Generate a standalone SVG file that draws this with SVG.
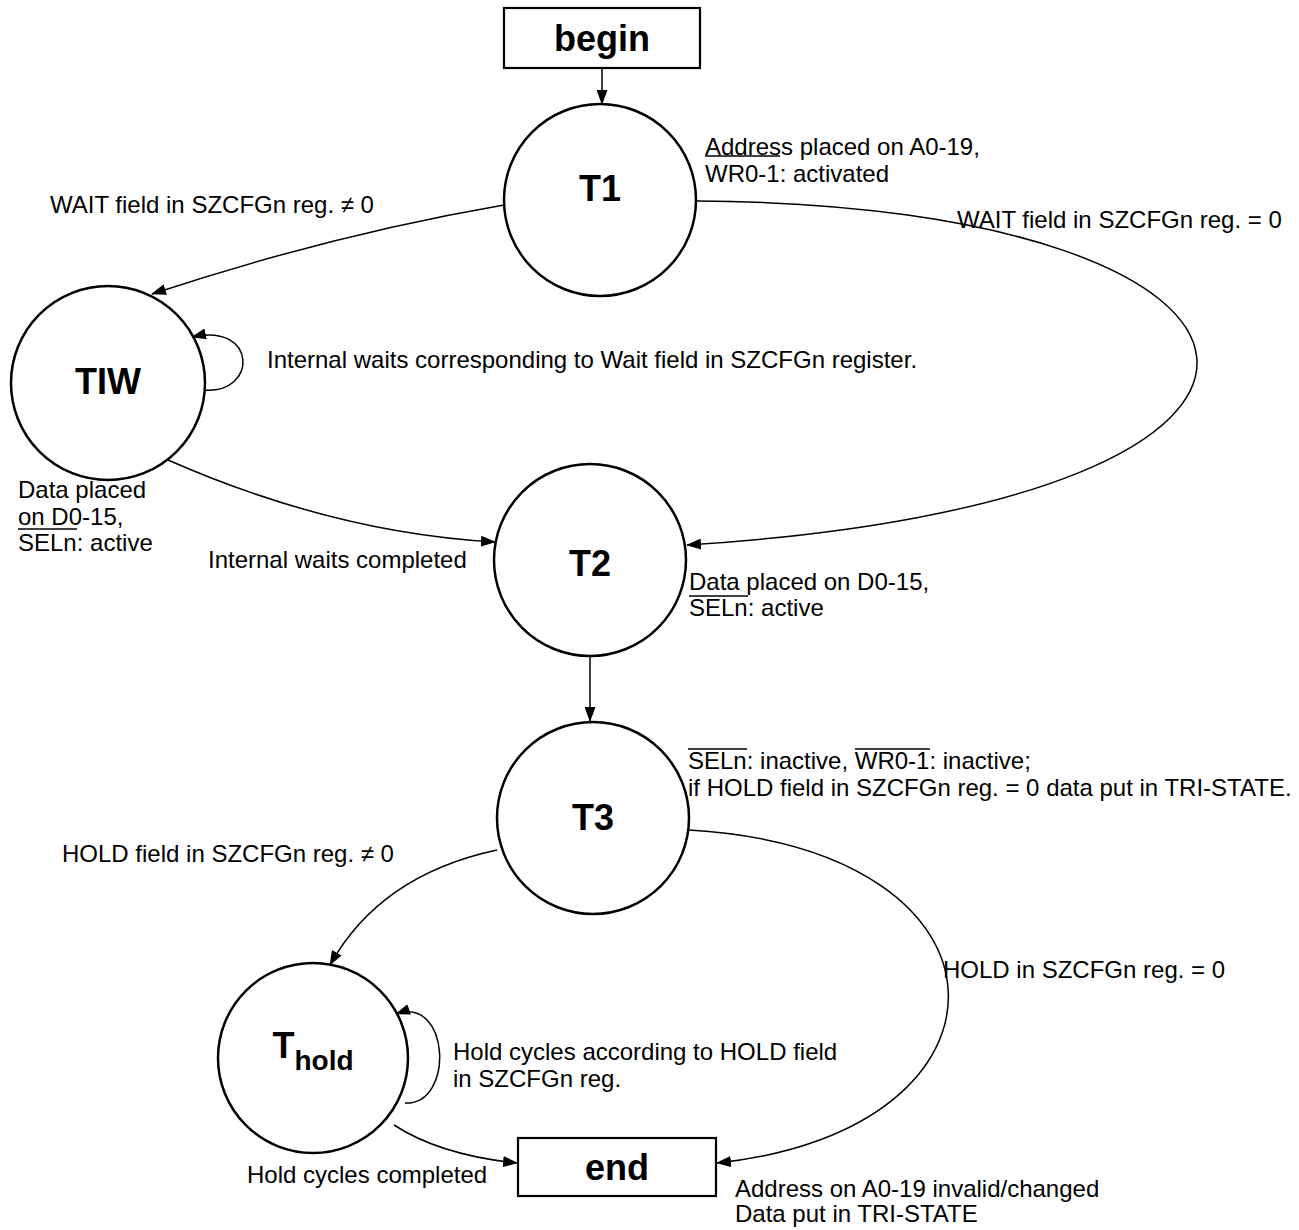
<svg xmlns="http://www.w3.org/2000/svg" width="1299" height="1230" viewBox="0 0 1299 1230">
<defs>
<marker id="ah" markerWidth="15" markerHeight="11" refX="14" refY="5.5" orient="auto" markerUnits="userSpaceOnUse"><path d="M0,0 L15,5.5 L0,11 z" fill="#000"/></marker>
</defs>
<style>
.node{fill:#fff;stroke:#000;stroke-width:2.5}
.box{fill:#fff;stroke:#000;stroke-width:2.2}
.nl{font-family:"Liberation Sans",Arial,sans-serif;font-weight:bold;font-size:36px;text-anchor:middle;fill:#000}
.lb{font-family:"Liberation Sans",Arial,sans-serif;font-size:24px;fill:#000}
.edge{fill:none;stroke:#000;stroke-width:1.5;marker-end:url(#ah)}
.ov{stroke:#000;stroke-width:1.3}
</style>
<rect width="1299" height="1230" fill="#fff"/>
<g id="connectors">
<path class="edge" d="M602,68 L602,104"/>
<path class="edge" d="M504,205 Q330,235 152,294"/>
<path class="edge" d="M697,201 C1330,205 1400,500 687,545"/>
<path class="edge" d="M203,390 C258,395 258,322 192,337"/>
<path class="edge" d="M168,460 Q334,533 495,542"/>
<path class="edge" d="M590,656 L590,721"/>
<path class="edge" d="M497,850 Q380,875 330,965"/>
<path class="edge" d="M405,1103 C455,1105 450,995 396,1014"/>
<path class="edge" d="M394,1125 Q440,1155 517,1163"/>
<path class="edge" d="M689,830 C1030,850 1030,1130 717,1163"/>
</g>
<g id="begin"><rect class="box" x="504" y="8" width="196" height="60"/><text class="nl" x="602" y="51">begin</text></g>
<g id="T1"><circle class="node" cx="600" cy="200" r="96"/><text class="nl" x="600" y="201">T1</text></g>
<g id="TIW"><circle class="node" cx="108" cy="383" r="97"/><text class="nl" x="108" y="394">TIW</text></g>
<g id="T2"><circle class="node" cx="590" cy="560" r="96"/><text class="nl" x="590" y="576">T2</text></g>
<g id="T3"><circle class="node" cx="593" cy="818" r="96"/><text class="nl" x="593" y="830">T3</text></g>
<g id="Thold"><circle class="node" cx="313" cy="1058" r="95"/><text class="nl" x="313" y="1058"><tspan>T</tspan><tspan font-size="28" dy="12">hold</tspan></text></g>
<g id="end"><rect class="box" x="518" y="1138" width="198" height="58"/><text class="nl" x="617" y="1180">end</text></g>
<g id="labels">
<text class="lb" x="705" y="155">Address placed on A0-19,</text>
<text class="lb" x="705" y="182">WR0-1: activated</text>
<line class="ov" x1="705" y1="156" x2="780" y2="156"/>
<text class="lb" x="50" y="213">WAIT field in SZCFGn reg. ≠ 0</text>
<text class="lb" x="957" y="228">WAIT field in SZCFGn reg. = 0</text>
<text class="lb" x="267" y="368">Internal waits corresponding to Wait field in SZCFGn register.</text>
<text class="lb" x="18" y="498">Data placed</text>
<text class="lb" x="18" y="525">on D0-15,</text>
<text class="lb" x="18" y="551">SELn: active</text>
<line class="ov" x1="18" y1="529" x2="77" y2="529"/>
<text class="lb" x="208" y="568">Internal waits completed</text>
<text class="lb" x="689" y="590">Data placed on D0-15,</text>
<text class="lb" x="689" y="616">SELn: active</text>
<line class="ov" x1="689" y1="596" x2="748" y2="596"/>
<text class="lb" x="688" y="769">SELn: inactive, WR0-1: inactive;</text>
<text class="lb" x="688" y="796">if HOLD field in SZCFGn reg. = 0 data put in TRI-STATE.</text>
<line class="ov" x1="688" y1="749" x2="747" y2="749"/>
<line class="ov" x1="855" y1="749" x2="930" y2="749"/>
<text class="lb" x="62" y="862">HOLD field in SZCFGn reg. ≠ 0</text>
<text class="lb" x="943" y="978">HOLD in SZCFGn reg. = 0</text>
<text class="lb" x="453" y="1060">Hold cycles according to HOLD field</text>
<text class="lb" x="453" y="1087">in SZCFGn reg.</text>
<text class="lb" x="247" y="1183">Hold cycles completed</text>
<text class="lb" x="735" y="1197">Address on A0-19 invalid/changed</text>
<text class="lb" x="735" y="1222">Data put in TRI-STATE</text>
</g>
</svg>
